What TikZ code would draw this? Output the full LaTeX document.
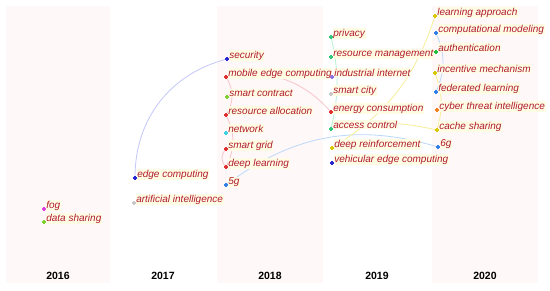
\documentclass[tikz,border=0pt]{standalone}
\usepackage{fontspec}
\setmainfont{Liberation Sans}
\definecolor{colbg}{HTML}{FEF8F8}
\definecolor{lblbg}{HTML}{FFFCE4}
\definecolor{txt}{HTML}{B01A2E}
\definecolor{lav}{HTML}{C4C8F8}
\definecolor{pinkl}{HTML}{F8C4C8}
\definecolor{lblue}{HTML}{BCD8F8}
\definecolor{mint}{HTML}{B4F0D4}
\definecolor{lyel}{HTML}{F6EE98}
\definecolor{mred}{HTML}{E03030}
\definecolor{mblue}{HTML}{2828D0}
\definecolor{mlblue}{HTML}{3080E8}
\definecolor{mgreen}{HTML}{80D030}
\definecolor{mteal}{HTML}{30C878}
\definecolor{myel}{HTML}{D8C800}
\definecolor{mgrey}{HTML}{C8C8C8}
\definecolor{mmag}{HTML}{E040E0}
\definecolor{mcyan}{HTML}{40D0E0}
\definecolor{mpurp}{HTML}{9070E0}
\definecolor{morange}{HTML}{F08020}
\definecolor{mgreen2}{HTML}{20C040}
\newcommand{\kwlab}[3]{\node[kwlabel] (#1-t) at ([xshift=1.5pt,yshift=0.5pt]#1) {#3};
  \draw[#2, line width=1.1pt] (#1) +(-1.6,0) -- +(1.6,0) (#1) +(0,-1.6) -- +(0,1.6);}
\begin{document}
\begin{tikzpicture}[x=1pt,y=-1pt,
  kwlabel/.style={anchor=base west, inner xsep=0.6pt, inner ysep=0.8pt, fill=lblbg, text=txt, font=\fontsize{10}{12}\selectfont\itshape},
  yearlbl/.style={font=\fontsize{10.5}{12}\selectfont\bfseries, inner sep=0pt},
  lnk/.style={line width=0.8pt}]
\useasboundingbox (0,0) rectangle (550,290);
\fill[white] (0,0) rectangle (550,290);
\fill[colbg] (6,6) rectangle (110,283);
\fill[colbg] (217,6) rectangle (323,283);
\fill[colbg] (432,6) rectangle (538,283);
% coordinates
\coordinate (fog) at (44,209);
\coordinate (datash) at (44,222);
\coordinate (edgecomp) at (135,178);
\coordinate (ai) at (134,203);
\coordinate (security) at (227,59);
\coordinate (mec) at (226,77);
\coordinate (smartcontract) at (227,97);
\coordinate (resalloc) at (226,115);
\coordinate (network) at (226,133);
\coordinate (smartgrid) at (226,149);
\coordinate (deeplearning) at (226,167);
\coordinate (fiveg) at (226,185);
\coordinate (privacy) at (331,37);
\coordinate (resmgmt) at (331,57);
\coordinate (indint) at (332,77);
\coordinate (smartcity) at (331,94);
\coordinate (energy) at (331,112);
\coordinate (access) at (331,129);
\coordinate (deepreinf) at (332,148);
\coordinate (vehicular) at (332,163);
\coordinate (learnapp) at (435,16);
\coordinate (compmod) at (436,33);
\coordinate (auth) at (436,52);
\coordinate (incentive) at (435,73);
\coordinate (fedlearn) at (436,92);
\coordinate (cyber) at (437,110);
\coordinate (cache) at (437,130);
\coordinate (sixg) at (438,147);
% links
\draw[lnk, lav] (edgecomp) to[bend left=38] (security);
\draw[lnk, pinkl] (mec) to[bend left=33] (resalloc);
\draw[lnk, pinkl] (resalloc) to[bend left=27] (deeplearning);
\draw[lnk, pinkl] (smartgrid) to[bend right=50] (deeplearning);
\draw[lnk, pinkl] (mec) to[bend left=30] (energy);
\draw[lnk, lblue] (fiveg) to[bend left=27] (sixg);
\draw[lnk, mint] (privacy) to[bend left=13] (access);
\draw[lnk, lyel] (deepreinf) to[bend right=20] (learnapp);
\draw[lnk, lyel] (access) to[bend left=12] (cache);
\draw[lnk, lblue] (compmod) to[bend left=24] (fedlearn);
\draw[lnk, lyel] (incentive) to[bend left=18] (cache);
% labels and markers
\kwlab{fog}{mmag}{fog}
\kwlab{datash}{mgreen}{data sharing}
\kwlab{edgecomp}{mblue}{edge computing}
\kwlab{ai}{mgrey}{artificial intelligence}
\kwlab{security}{mblue}{security}
\kwlab{mec}{mred}{mobile edge computing}
\kwlab{smartcontract}{mgreen}{smart contract}
\kwlab{resalloc}{mred}{resource allocation}
\kwlab{network}{mcyan}{network}
\kwlab{smartgrid}{mred}{smart grid}
\kwlab{deeplearning}{mred}{deep learning}
\kwlab{fiveg}{mlblue}{5g}
\kwlab{privacy}{mteal}{privacy}
\kwlab{resmgmt}{mteal}{resource management}
\kwlab{indint}{mpurp}{industrial internet}
\kwlab{smartcity}{mgrey}{smart city}
\kwlab{energy}{mred}{energy consumption}
\kwlab{access}{mteal}{access control}
\kwlab{deepreinf}{myel}{deep reinforcement}
\kwlab{vehicular}{mblue}{vehicular edge computing}
\kwlab{learnapp}{myel}{learning approach}
\kwlab{compmod}{mlblue}{computational modeling}
\kwlab{auth}{mgreen2}{authentication}
\kwlab{incentive}{myel}{incentive mechanism}
\kwlab{fedlearn}{mlblue}{federated learning}
\kwlab{cyber}{morange}{cyber threat intelligence}
\kwlab{cache}{myel}{cache sharing}
\kwlab{sixg}{mlblue}{6g}
% years
\node[yearlbl] (y2016) at (58,276) {2016};
\node[yearlbl] (y2017) at (163,276) {2017};
\node[yearlbl] (y2018) at (270,276) {2018};
\node[yearlbl] (y2019) at (377,276) {2019};
\node[yearlbl] (y2020) at (485,276) {2020};
\end{tikzpicture}
\end{document}
